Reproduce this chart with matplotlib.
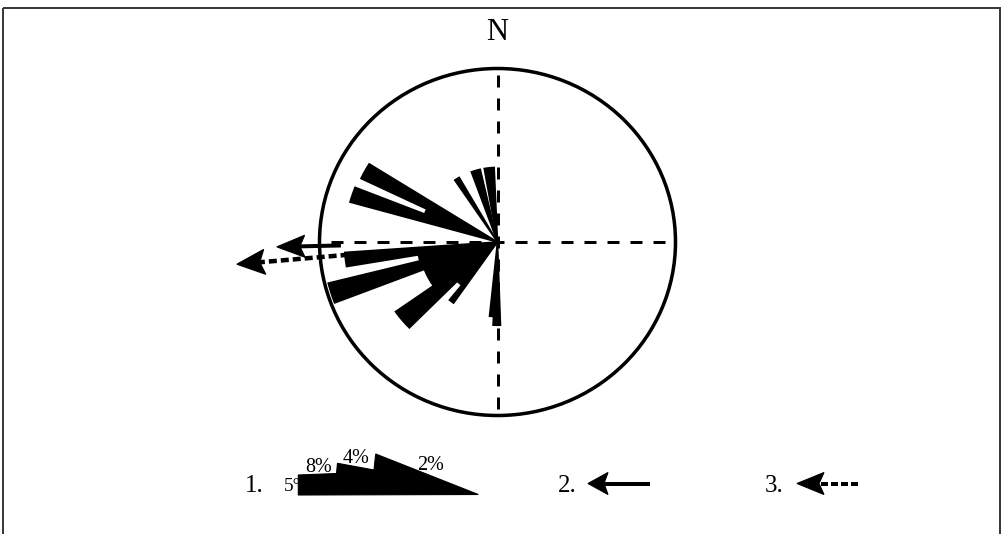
import numpy as np
import matplotlib
matplotlib.use("Agg")
import matplotlib.pyplot as plt
from matplotlib.patches import Wedge, Circle, Polygon, Rectangle

# ---------------- data ----------------
# rose petals: azimuth range (deg, clockwise from north) and length (fraction of circle radius)
petal_start_deg = [178, 183, 215, 219, 225, 235, 249, 256, 260.5, 285.5, 291.5, 295.5, 326, 340, 350]
petal_end_deg   = [183, 186, 219, 225, 235, 249, 256, 260.5, 266, 291.5, 295.5, 302, 330, 347, 357.5]
petal_length    = [0.48, 0.43, 0.43, 0.32, 0.70, 0.44, 0.98, 0.45, 0.86, 0.86, 0.44, 0.85, 0.43, 0.43, 0.43]

# direction arrows (azimuth, inner / outer radius as fraction of circle radius)
solid_dir_deg = 268.7
solid_r = (0.88, 1.24)
dashed_dir_deg = 265.0
dashed_r = (0.84, 1.47)

north_label = "N"
scale_labels = ["8%", "4%", "2%"]
bin_label = "5°"
legend_numbers = ["1.", "2.", "3."]

# ---------------- layout (pixels) ----------------
W, H, DPI = 1002, 534, 100
CX, CY = 497.5, 242.0       # rose centre
RX, RY = 178.0, 173.5       # circle radii (slightly elliptical like the scan)

fig = plt.figure(figsize=(W / DPI, H / DPI), dpi=DPI)
fig.patch.set_facecolor("white")

# pixel-space overlay axes
axp = fig.add_axes([0, 0, 1, 1])
axp.set_xlim(0, W)
axp.set_ylim(H, 0)
axp.axis("off")

# rose axes in unit-circle coordinates
ax = fig.add_axes([0, 0, 1, 1])
ax.set_xlim((0 - CX) / RX, (W - CX) / RX)
ax.set_ylim((CY - H) / RY, CY / RY)
ax.set_aspect("auto")
ax.axis("off")
ax.patch.set_alpha(0)

PX = 0.72  # points per pixel at 100 dpi

# frame
axp.add_patch(Rectangle((3.5, 7.5), 997, 540, fill=False, edgecolor="#3a3a3a", lw=2 * PX))

# dashed cross-hair lines
lw_axis = 3 * PX
for az in (0, 90, 180, 270):
    a = np.deg2rad(az)
    ax.plot([0, np.sin(a)], [0, np.cos(a)], color="black", lw=lw_axis,
            linestyle=(2, (12 / 3.0, 11 / 3.0)), solid_capstyle="butt", zorder=2)

# circle
ax.add_patch(Circle((0, 0), 1.0, fill=False, edgecolor="black", lw=3.5 * PX, zorder=3))

# petals (thin black stroke imitates the ink spread of the printed figure)
for a0, a1, r in zip(petal_start_deg, petal_end_deg, petal_length):
    ax.add_patch(Wedge((0, 0), r, 90 - a1, 90 - a0, facecolor="black", edgecolor="black",
                       lw=1.6 * PX, joinstyle="miter", zorder=4))


def to_px(az, r):
    a = np.deg2rad(az)
    return np.array([CX + r * RX * np.sin(a), CY - r * RY * np.cos(a)])


def arrow(tail, tip, head_len, half_w, notch, shaft_lw, dashed=False, dash=(8, 4)):
    tail = np.asarray(tail, float)
    tip = np.asarray(tip, float)
    u = (tip - tail) / np.linalg.norm(tip - tail)
    n = np.array([-u[1], u[0]])
    base = tip - head_len * u
    inner = tip - (head_len - notch) * u
    head = Polygon([tip, base + half_w * n, inner, base - half_w * n],
                   closed=True, facecolor="black", edgecolor="black", lw=0.8, zorder=6)
    axp.add_patch(head)
    ls = (0, (dash[0] / shaft_lw, dash[1] / shaft_lw)) if dashed else "-"
    axp.plot([tail[0], inner[0]], [tail[1], inner[1]], color="black",
             lw=shaft_lw * PX, linestyle=ls, solid_capstyle="butt", dash_capstyle="butt", zorder=6)


# mean-direction arrows on the rose
arrow(to_px(solid_dir_deg, solid_r[0]), to_px(solid_dir_deg, solid_r[1]),
      head_len=28, half_w=11, notch=5, shaft_lw=4)
arrow(to_px(dashed_dir_deg, dashed_r[0]), to_px(dashed_dir_deg, dashed_r[1]),
      head_len=28, half_w=12.5, notch=5, shaft_lw=4.5, dashed=True, dash=(8, 4))

serif = ["Liberation Serif", "DejaVu Serif"]

# north label
axp.text(CX, 32, north_label, ha="center", va="center", fontsize=22, family=serif)

# ---------------- legend ----------------
# 1. scale key (stepped wedge)
key_shape = [(298.3, 495), (298.3, 475), (336.5, 473.5), (337.5, 463.3), (374, 470),
             (375.7, 454), (478.3, 494.5)]
axp.add_patch(Polygon(key_shape, closed=True, facecolor="black", edgecolor="black", lw=0.8, zorder=5))
axp.text(254, 485.5, legend_numbers[0], ha="center", va="center", fontsize=18, family=serif)
axp.text(301, 486.5, bin_label, ha="right", va="center", fontsize=14, family=serif, zorder=4)
for lab, (x, y) in zip(scale_labels, [(318.5, 468), (356, 458.5), (430.5, 466)]):
    axp.text(x, y, lab, ha="center", va="center", fontsize=14.5, family=serif)

# 2. solid arrow
axp.text(567, 485.5, legend_numbers[1], ha="center", va="center", fontsize=18, family=serif)
arrow((650, 483.5), (588, 483.5), head_len=20, half_w=11, notch=4, shaft_lw=4)

# 3. dashed arrow
axp.text(774, 485.5, legend_numbers[2], ha="center", va="center", fontsize=18, family=serif)
arrow((858, 483.5), (797, 483.5), head_len=27, half_w=11, notch=5, shaft_lw=4, dashed=True, dash=(7, 3))

fig.savefig("out.png", dpi=DPI, facecolor="white")
